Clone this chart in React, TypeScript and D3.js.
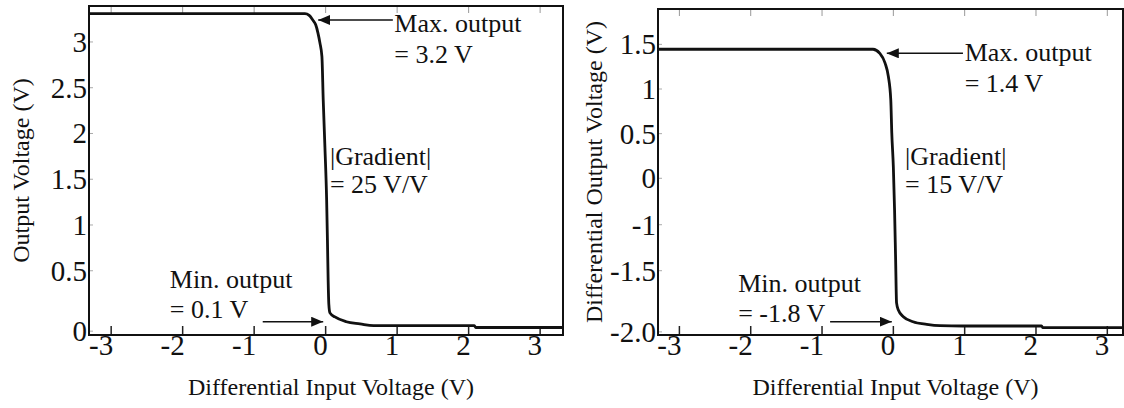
import React from 'react';
import * as d3 from 'd3';

const width = 1124;
const height = 408;
const font = '"Liberation Serif", "Times New Roman", serif';

// left panel: single-ended output
const leftX = [-3.31, -0.36, -0.29, -0.23, -0.18, -0.14, -0.108, -0.08, -0.052, -0.034, -0.01, 0.014, 0.025, 0.035, 0.045, 0.06, 0.13, 0.29, 0.48, 0.67, 0.94, 2.08, 2.1, 3.32];
const leftY = [3.31, 3.31, 3.31, 3.29, 3.24, 3.19, 3.1, 2.99, 2.84, 2.37, 1.85, 1.27, 0.84, 0.4, 0.13, 0.04, -0.005, -0.057, -0.08, -0.1, -0.1, -0.1, -0.12, -0.12];
const leftYTicks = [3, 2.5, 2, 1.5, 1, 0.5, -0.16];
const leftYLabels = ['3', '2.5', '2', '1.5', '1', '0.5', '0'];

// right panel: differential output
const rightX = [-3.3, -0.285, -0.19, -0.116, -0.07, -0.036, -0.022, 0.0, 0.017, 0.032, 0.045, 0.07, 0.14, 0.276, 0.468, 0.654, 0.976, 2.078, 2.097, 3.22];
const rightY = [1.445, 1.445, 1.4, 1.29, 1.14, 0.877, 0.507, 0.127, -0.355, -0.915, -1.396, -1.475, -1.55, -1.606, -1.635, -1.65, -1.654, -1.654, -1.673, -1.673];
const rightYTicks = [1.5, 1, 0.5, 0, -0.52, -1.035, -1.72];
const rightYLabels = ['1.5', '1', '0.5', '0', '-1', '-1.5', '-2.0'];

const xTicks = [-3, -2, -1, 0, 1, 2, 3];

const panels = [
  {
    key: 'single',
    left: 89, right: 563, top: 6, bottom: 335,
    xDomain: [-3.31, 3.32], yDomain: [3.393, -0.202],
    xs: leftX, ys: leftY,
    yTicks: leftYTicks, yLabels: leftYLabels,
    yTitle: 'Output Voltage (V)', yTitleX: 29,
    maxArrow: [[0.94, 3.24], [-0.104, 3.24]],
    maxText: [0.96, 3.11], maxLines: ['Max. output', '= 3.2 V'],
    gradText: [0.06, 1.656], gradLines: ['|Gradient|', '= 25 V/V'],
    minText: [-2.18, 0.31], minLines: ['Min. output', '= 0.1 V'],
    minArrow: [[-0.88, -0.057], [-0.034, -0.057]],
  },
  {
    key: 'diff',
    left: 658, right: 1123, top: 9, bottom: 335,
    xDomain: [-3.3, 3.22], yDomain: [1.896, -1.755],
    xs: rightX, ys: rightY,
    yTicks: rightYTicks, yLabels: rightYLabels,
    yTitle: 'Differential Output Voltage (V)', yTitleX: 602,
    maxArrow: [[0.976, 1.4], [-0.092, 1.4]],
    maxText: [1.0, 1.313], maxLines: ['Max. output', '= 1.4 V'],
    gradText: [0.164, 0.149], gradLines: ['|Gradient|', '= 15 V/V'],
    minText: [-2.176, -1.27], minLines: ['Min. output', '= -1.8 V'],
    minArrow: [[-0.887, -1.606], [-0.022, -1.606]],
  },
];

const Panel = ({ p }) => {
  const x = d3.scaleLinear().domain(p.xDomain).range([p.left, p.right]);
  const y = d3.scaleLinear().domain(p.yDomain).range([p.top, p.bottom]);
  const line = d3.line().x(d => x(d[0])).y(d => y(d[1])).curve(d3.curveMonotoneX);
  const pts = p.xs.map((v, i) => [v, p.ys[i]]);

  const twoLines = (pos, lines, gap) => (
    <text x={x(pos[0])} y={y(pos[1])} fontSize={26} fill="#111">
      <tspan x={x(pos[0])}>{lines[0]}</tspan>
      <tspan x={x(pos[0])} dy={gap}>{lines[1]}</tspan>
    </text>
  );

  return (
    <g fontFamily={font}>
      {/* ticks */}
      {xTicks.map(t => (
        <g key={'x' + t}>
          <line x1={x(t)} x2={x(t)} y1={p.bottom} y2={p.bottom - 9} stroke="#222" strokeWidth={1.5} />
          <line x1={x(t)} x2={x(t)} y1={p.top} y2={p.top + 7} stroke="#999" strokeWidth={1} />
          <text x={x(t) + 2} y={355} textAnchor="end" fontSize={29} fill="#111">{t}</text>
        </g>
      ))}
      {p.yTicks.map((t, i) => (
        <g key={'y' + i}>
          <line x1={p.left} x2={p.left + 4} y1={y(t)} y2={y(t)} stroke="#aaa" strokeWidth={1} />
          <text x={p.left - 2} y={y(t)} dy="0.34em" textAnchor="end" fontSize={29} fill="#111">{p.yLabels[i]}</text>
        </g>
      ))}
      <rect x={p.left} y={p.top} width={p.right - p.left} height={p.bottom - p.top} fill="none" stroke="#111" strokeWidth={2} />
      <path d={line(pts)} fill="none" stroke="#111" strokeWidth={2.8} />

      {/* annotations */}
      <line x1={x(p.maxArrow[0][0])} y1={y(p.maxArrow[0][1])} x2={x(p.maxArrow[1][0])} y2={y(p.maxArrow[1][1])}
        stroke="#111" strokeWidth={1.6} markerEnd="url(#arrow)" />
      <line x1={x(p.minArrow[0][0])} y1={y(p.minArrow[0][1])} x2={x(p.minArrow[1][0])} y2={y(p.minArrow[1][1])}
        stroke="#111" strokeWidth={1.6} markerEnd="url(#arrow)" />
      {twoLines(p.maxText, p.maxLines, 31)}
      {twoLines(p.gradText, p.gradLines, 28)}
      {twoLines(p.minText, p.minLines, 30)}

      {/* axis titles */}
      <text x={(p.left + p.right) / 2 + 5} y={395} textAnchor="middle" fontSize={24} fill="#111">
        Differential Input Voltage (V)
      </text>
      <text transform={`translate(${p.yTitleX},${(p.top + p.bottom) / 2}) rotate(-90)`} textAnchor="middle" fontSize={24} fill="#111">
        {p.yTitle}
      </text>
    </g>
  );
};

const App = () => (
  <svg width={width} height={height} style={{ position: 'absolute', left: 0, top: 0, background: '#fff' }}>
    <defs>
      <marker id="arrow" viewBox="0 0 12 10" refX={12} refY={5} markerWidth={12} markerHeight={10}
        markerUnits="userSpaceOnUse" orient="auto">
        <path d="M0,0 L12,5 L0,10 Z" fill="#111" />
      </marker>
    </defs>
    <rect width={width} height={height} fill="#fff" />
    {panels.map(p => <Panel key={p.key} p={p} />)}
  </svg>
);

export default App;
